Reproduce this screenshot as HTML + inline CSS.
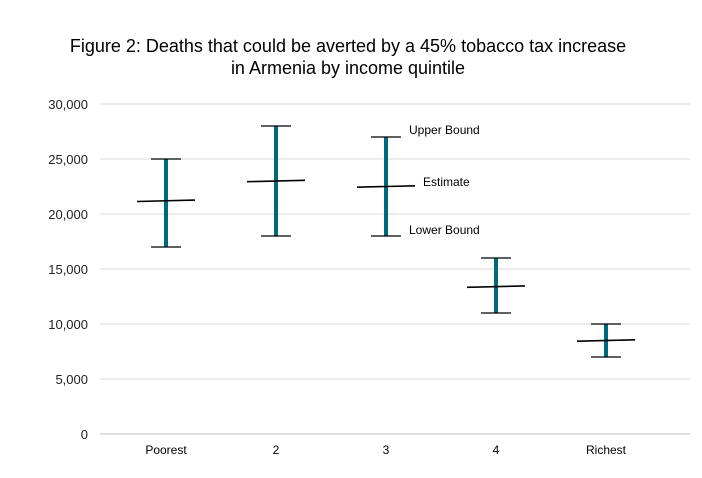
<!DOCTYPE html>
<html><head><meta charset="utf-8"><style>
body{margin:0;background:#fff;}
svg{display:block;font-family:"Liberation Sans",sans-serif;}
</style></head><body>
<svg id="c" width="702" height="478">
<text x="348" y="52" text-anchor="middle" font-size="18" fill="#000">Figure 2: Deaths that could be averted by a 45% tobacco tax increase</text>
<text x="348" y="74" text-anchor="middle" font-size="18" fill="#000">in Armenia by income quintile</text>
<g id="grid"></g><g id="marks"></g>
<text x="409" y="134" font-size="12">Upper Bound</text>
<text x="423" y="186" font-size="12">Estimate</text>
<text x="409" y="234" font-size="12">Lower Bound</text>
</svg>
<script>
const categories=["Poorest","2","3","4","Richest"];
const upper=[25000,28000,27000,16000,10000];
const lower=[17000,18000,18000,11000,7000];
const estimate=[21200,23000,22500,13400,8500];
const ticks=[0,5000,10000,15000,20000,25000,30000];
const NS="http://www.w3.org/2000/svg";
const y=v=>434-v*330/30000;
const x=i=>166+i*110;
function mk(p,t,a){const e=document.createElementNS(NS,t);for(const k in a)e.setAttribute(k,a[k]);p.appendChild(e);return e;}
const g=document.getElementById('grid'),m=document.getElementById('marks');
ticks.forEach(t=>{
 const l=mk(g,'line',{x1:100,x2:690,y1:y(t),y2:y(t),stroke:t===0?'#bfbfbf':'#d9d9d9','stroke-width':1});
 
 
 const tx=mk(g,'text',{x:88,y:y(t)+5,'text-anchor':'end','font-size':13,fill:'#222'});
 tx.textContent=t.toLocaleString('en-US');
 
 
});
categories.forEach((c,i)=>{
 const cx=x(i);
 const b=mk(m,'line',{x1:cx,x2:cx,y1:y(upper[i]),y2:y(lower[i]),stroke:'#00697a','stroke-width':4});
 
 
 [upper[i],lower[i]].forEach(v=>{
  const cap=mk(m,'line',{x1:cx-15,x2:cx+15,y1:y(v),y2:y(v),stroke:'#000','stroke-width':1.3});
  
  
 });
 const e=mk(m,'line',{x1:cx-29,x2:cx+29,y1:y(estimate[i])+0.7,y2:y(estimate[i])-0.7,stroke:'#000','stroke-width':1.6});
 
 
 const t=mk(m,'text',{x:cx,y:454,'text-anchor':'middle','font-size':12,fill:'#000'});
 t.textContent=c;
 
 
});
</script>
</body></html>
